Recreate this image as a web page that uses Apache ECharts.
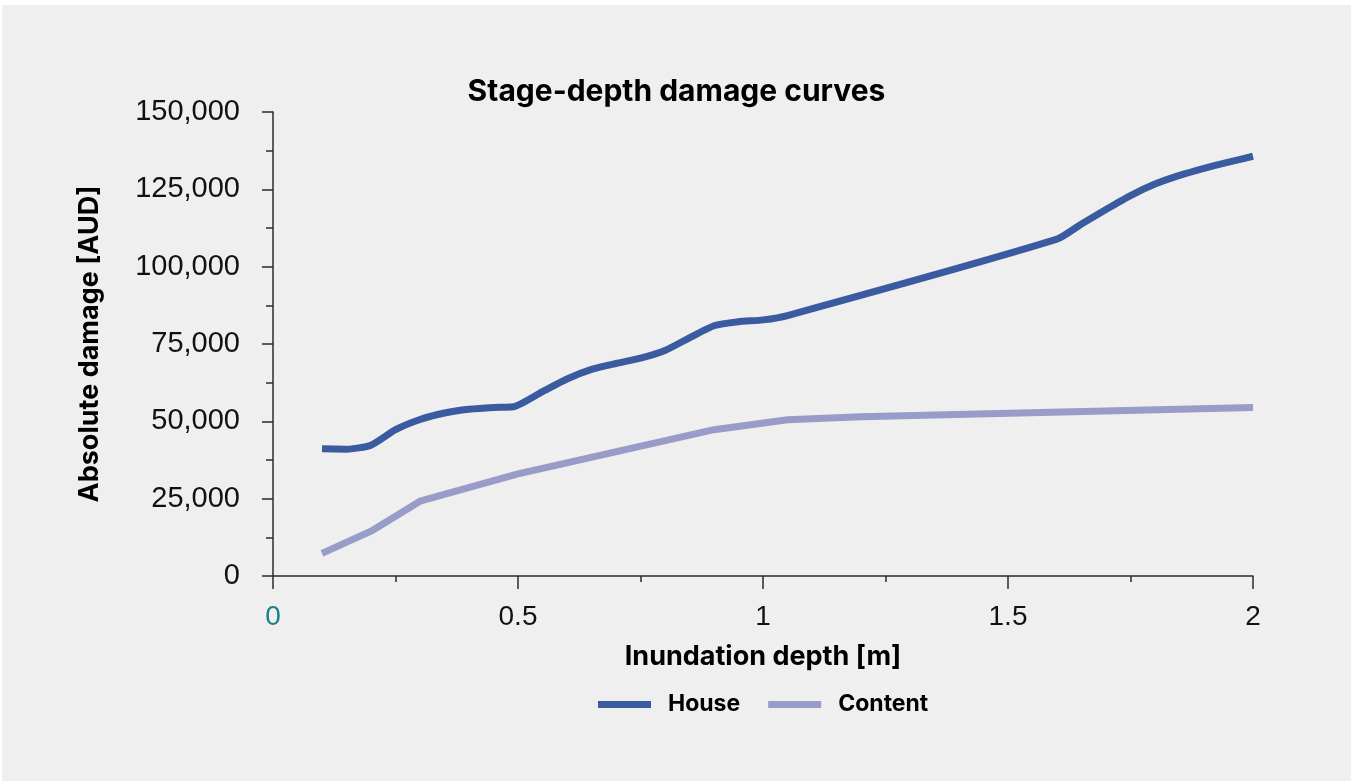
<!DOCTYPE html>
<html>
<head>
<meta charset="utf-8">
<script src="https://cdn.jsdelivr.net/npm/echarts@6/dist/echarts.min.js"></script>
<style>
html,body{margin:0;padding:0;background:#ffffff;width:1351px;height:781px;overflow:hidden;}
#chart{position:absolute;left:2px;top:5px;width:1349px;height:776px;background:#efefef;}
</style>
</head>
<body>
<div id="chart"></div>
<script>
const chartTitle = 'Stage-depth damage curves';
const xAxisName = 'Inundation depth [m]';
const yAxisName = 'Absolute damage [AUD]';
const seriesNames = ['House', 'Content'];

// [depth (m), damage (AUD)]
const houseData = [
  [0.1, 41100], [0.15, 41000], [0.2, 42300], [0.25, 47300], [0.3, 50600],
  [0.35, 52700], [0.4, 53900], [0.45, 54500], [0.49, 54700], [0.55, 59600],
  [0.6, 63700], [0.65, 66800], [0.7, 68700], [0.75, 70400], [0.8, 72900],
  [0.85, 77000], [0.9, 80900], [0.95, 82200], [1.0, 82800], [1.05, 84200],
  [1.6, 108900], [1.65, 113800], [1.7, 118500], [1.75, 123000], [1.8, 126700],
  [1.85, 129500], [1.9, 131800], [1.95, 133800], [2.0, 135700]
];
const contentData = [
  [0.1, 7300], [0.2, 14500], [0.3, 24200], [0.5, 33000], [0.9, 47300],
  [1.05, 50500], [1.2, 51500], [2.0, 54500]
];

const chart = echarts.init(document.getElementById('chart'), null, {renderer: 'canvas'});
const axisColor = '#2b2b2b';
const tickFont = '"Liberation Sans", Arial, sans-serif';
const boldFont = 'Inter, "Liberation Sans", sans-serif';

chart.setOption({
  backgroundColor: '#efefef',
  animation: false,
  title: {
    text: chartTitle,
    left: 'center',
    top: 67,
    textStyle: {fontFamily: boldFont, fontWeight: 'bold', fontSize: 30, color: '#000'}
  },
  legend: {
    data: seriesNames,
    left: 596,
    top: 688,
    padding: 0,
    icon: 'rect',
    itemWidth: 53,
    itemHeight: 7,
    itemGap: 28,
    textStyle: {fontFamily: boldFont, fontWeight: 'bold', fontSize: 23, color: '#000', padding: [0, 0, 0, 12]}
  },
  grid: {left: 271, right: 98, top: 107, bottom: 205, containLabel: false},
  xAxis: {
    type: 'value',
    min: 0, max: 2, interval: 0.5,
    name: xAxisName,
    nameLocation: 'middle',
    nameGap: 67,
    nameTextStyle: {fontFamily: boldFont, fontWeight: 'bold', fontSize: 27, color: '#000'},
    axisLine: {show: true, lineStyle: {color: axisColor, width: 1.5}},
    axisTick: {show: true, length: 13, lineStyle: {color: axisColor, width: 1.5}},
    minorTick: {show: true, splitNumber: 2, length: 6, lineStyle: {color: axisColor, width: 1.5}},
    splitLine: {show: false},
    axisLabel: {
      fontFamily: tickFont, fontSize: 28, margin: 27,
      color: function (v) { return Number(v) === 0 ? '#1a7f86' : '#111'; },
      formatter: function (v) { return String(v); }
    }
  },
  yAxis: {
    type: 'value',
    min: 0, max: 150000, interval: 25000,
    name: yAxisName,
    nameLocation: 'middle',
    nameGap: 170,
    nameRotate: 90,
    nameTextStyle: {fontFamily: boldFont, fontWeight: 'bold', fontSize: 27, color: '#000'},
    axisLine: {show: true, lineStyle: {color: axisColor, width: 1.5}},
    axisTick: {show: true, length: 11, lineStyle: {color: axisColor, width: 1.5}},
    minorTick: {show: true, splitNumber: 2, length: 7, lineStyle: {color: axisColor, width: 1.5}},
    splitLine: {show: false},
    axisLabel: {
      fontFamily: tickFont, fontSize: 29, margin: 33, color: '#111',
      formatter: function (v) { return Number(v).toLocaleString('en-US'); }
    }
  },
  series: [
    {
      name: seriesNames[0], type: 'line', data: houseData,
      showSymbol: false, symbol: 'none', smooth: 0.2,
      lineStyle: {color: '#3b5ba0', width: 7, cap: 'butt'},
      itemStyle: {color: '#3b5ba0'}
    },
    {
      name: seriesNames[1], type: 'line', data: contentData,
      showSymbol: false, symbol: 'none', smooth: false,
      lineStyle: {color: '#979cc8', width: 7, cap: 'butt'},
      itemStyle: {color: '#979cc8'}
    }
  ]
});
</script>
</body>
</html>
